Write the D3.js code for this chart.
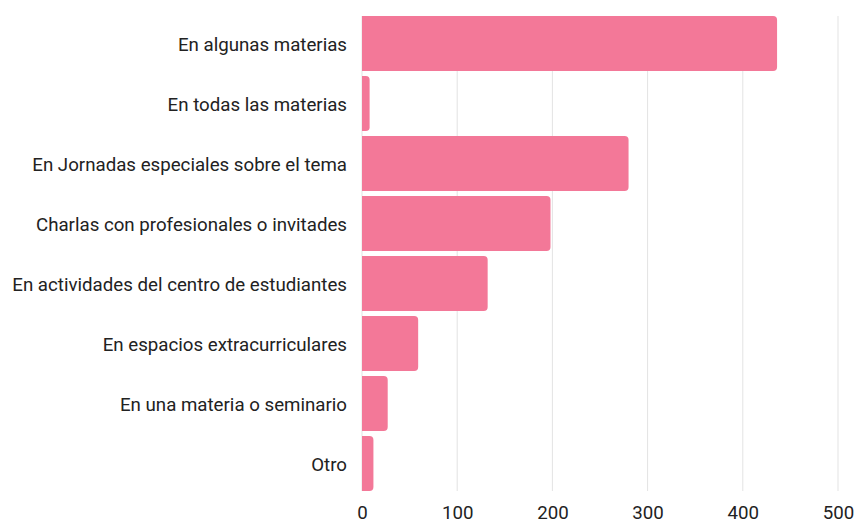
<!DOCTYPE html>
<html>
<head>
<meta charset="utf-8">
<script src="https://cdn.jsdelivr.net/npm/d3@7"></script>
<style>
body { margin: 0; background: #fff; }
text { font-family: Roboto, "Noto Sans", sans-serif; }
</style>
</head>
<body>
<svg id="chart" width="857" height="520"></svg>
<script>
var categories = [
    "En algunas materias",
    "En todas las materias",
    "En Jornadas especiales sobre el tema",
    "Charlas con profesionales o invitades",
    "En actividades del centro de estudiantes",
    "En espacios extracurriculares",
    "En una materia o seminario",
    "Otro"
];
var values = [436, 8, 280, 198, 132, 59, 27, 12];
var xTicks = [0, 100, 200, 300, 400, 500];

var svg = d3.select("#chart"),
    margin = {top: 16, right: 19, bottom: 29, left: 362},
    width = +svg.attr("width") - margin.left - margin.right,
    height = +svg.attr("height") - margin.top - margin.bottom;

var g = svg.append("g")
    .attr("transform", "translate(" + margin.left + "," + margin.top + ")");

var x = d3.scaleLinear().domain([0, 500]).range([0, width]);
var y = d3.scaleBand().domain(categories).range([0, height]).paddingInner(5 / 60).paddingOuter(0);

// grid
g.selectAll(".grid")
    .data(xTicks)
    .enter().append("line")
    .attr("x1", function(d) { return x(d); })
    .attr("x2", function(d) { return x(d); })
    .attr("y1", 0)
    .attr("y2", height)
    .attr("stroke", "#e3e3e3")
    .attr("stroke-width", 1);

// bars with rounded right corners
var r = 4;
function barPath(w, h) {
    var rr = Math.min(r, w / 2, h / 2);
    return "M0,0H" + (w - rr) +
        "A" + rr + "," + rr + " 0 0 1 " + w + "," + rr +
        "V" + (h - rr) +
        "A" + rr + "," + rr + " 0 0 1 " + (w - rr) + "," + h +
        "H0Z";
}

var data = categories.map(function(c, i) { return {cat: c, val: values[i]}; });

g.selectAll(".bar")
    .data(data)
    .enter().append("path")
    .attr("class", "bar")
    .attr("transform", function(d) { return "translate(0," + y(d.cat) + ")"; })
    .attr("d", function(d) { return barPath(x(d.val) - x(0), y.bandwidth()); })
    .attr("fill", "#f37898");

// category labels
g.selectAll(".label")
    .data(data)
    .enter().append("text")
    .attr("x", -15)
    .attr("y", function(d) { return y(d.cat) + y.bandwidth() / 2; })
    .attr("dy", "0.38em")
    .attr("text-anchor", "end")
    .attr("font-size", 18.7)
    .attr("fill", "#222")
    .text(function(d) { return d.cat; });

// x axis
var xAxis = g.append("g")
    .attr("transform", "translate(0," + height + ")")
    .call(d3.axisBottom(x).tickValues(xTicks).tickSize(0));
xAxis.select(".domain").remove();
xAxis.selectAll("text")
    .attr("y", 28)
    .attr("dy", 0)
    .attr("font-size", 18.7)
    .attr("fill", "#222")
    .style("font-family", "Roboto, sans-serif");
</script>
</body>
</html>
